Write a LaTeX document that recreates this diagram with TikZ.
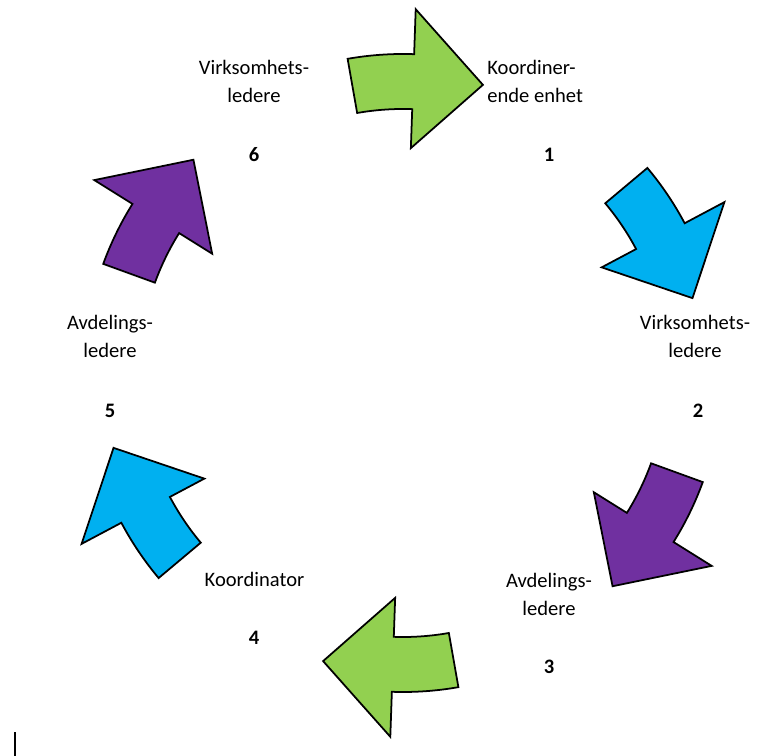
\documentclass[tikz,border=0pt]{standalone}
\usepackage{fontspec}
\setmainfont{Carlito}
\definecolor{arrowgreen}{RGB}{146,208,80}
\definecolor{arrowblue}{RGB}{0,176,240}
\definecolor{arrowpurple}{RGB}{112,48,160}
\begin{document}
\begin{tikzpicture}[x=0.02cm, y=0.02cm,
    txt/.style={font=\fontsize{11.7}{16.4}\selectfont, align=center, anchor=base, inner sep=0pt},
    nr/.style={font=\fontsize{11.7}{16.4}\selectfont\bfseries, anchor=base, inner sep=0pt}]
  \useasboundingbox (0,0) rectangle (756,756);
  \coordinate (M) at (403,383);

  % the six curved arrows round the centre
  \foreach \a/\c in {100/arrowgreen, 40/arrowblue, -20/arrowpurple,
                     -80/arrowgreen, -140/arrowblue, -200/arrowpurple}
    \filldraw[fill=\c, draw=black, line width=1pt, shift={(M)}]
      (\a:319) arc[start angle=\a, end angle=\a-12, radius=319]
      -- (\a-12:364) -- (\a-25.5:299) -- (\a-12:225) -- (\a-12:264)
      arc[start angle=\a-12, end angle=\a, radius=264] -- cycle;

  % labels (base = last line)
  \node[txt, align=left, anchor=base west] (lbl1) at (487,653) {Koordiner-\\ende enhet};
  \node[nr] (num1) at (549,594.5) {1};
  \node[txt] (lbl2) at (695,398) {Virksomhets-\\ledere};
  \node[nr] (num2) at (698,338.5) {2};
  \node[txt] (lbl3) at (549,140) {Avdelings-\\ledere};
  \node[nr] (num3) at (549,82.5) {3};
  \node[txt] (lbl4) at (254.5,169) {Koordinator};
  \node[nr] (num4) at (254,111.5) {4};
  \node[txt] (lbl5) at (110,398) {Avdelings-\\ledere};
  \node[nr] (num5) at (110,338.5) {5};
  \node[txt] (lbl6) at (254,653) {Virksomhets-\\ledere};
  \node[nr] (num6) at (254,594.5) {6};

  \draw[line width=1.4pt] (15,0) -- (15,24);
\end{tikzpicture}
\end{document}
